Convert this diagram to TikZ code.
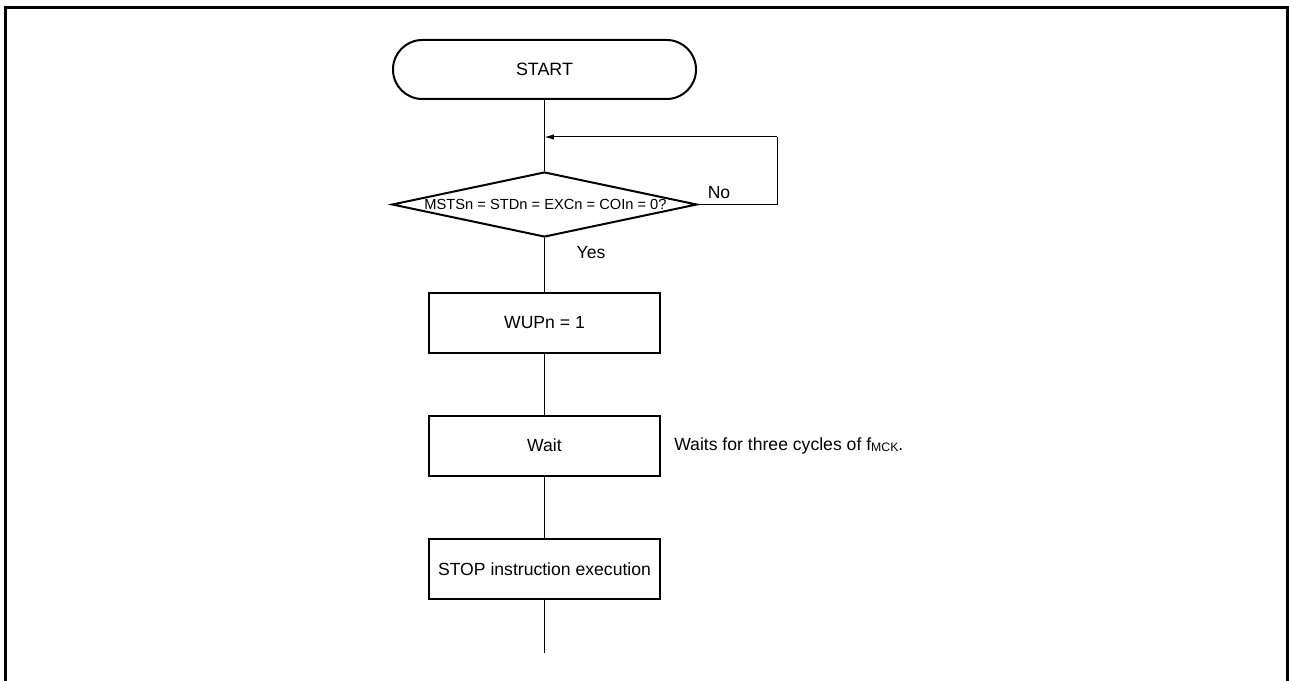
\documentclass[tikz,border=0pt]{standalone}
\usepackage{fontspec}
\setmainfont{Liberation Sans}
\usetikzlibrary{shapes.geometric,arrows.meta}
\begin{document}
\begin{tikzpicture}[x=0.75pt,y=-0.75pt,
  stepbox/.style={draw, line width=1.5pt, minimum width=173.25pt, minimum height=45pt, inner sep=0pt, font=\fontsize{13.2}{15}\selectfont},
  termbox/.style={draw, line width=1.5pt, rounded corners=22pt, minimum width=227.25pt, minimum height=44.25pt, inner sep=0pt, font=\fontsize{13.4}{15}\selectfont},
  decbox/.style={draw, shape=diamond, line width=1.5pt, minimum width=228.75pt, minimum height=48.75pt, inner sep=0pt},
  conn/.style={line width=0.75pt},
  lbl/.style={inner sep=0pt, font=\fontsize{13.2}{15}\selectfont}]
\useasboundingbox (0,0) rectangle (1289,681);
\draw[line width=2.25pt] (5.5,681) -- (5.5,7.5) -- (1287.5,7.5) -- (1287.5,681);

\node[termbox] (start) at (544.5,69.5) {START};
\node[decbox] (dec) at (544.5,204.5) {};
\node[inner sep=0pt, font=\fontsize{11}{13}\selectfont] (dectext) at (545.5,204.5) {MSTSn = STDn = EXCn = COIn = 0?};
\node[stepbox] (wup) at (544.5,323) {WUPn = 1};
\node[stepbox] (wait) at (544.5,445.5) {Wait};
\node[stepbox] (stop) at (544.5,569) {STOP instruction execution};
\coordinate (endpt) at (544.5,653);
\coordinate (lpc) at (777,137);
\coordinate (lpin) at (544.5,137);

\node[lbl] (no) at (719,193) {No};
\node[lbl] (yes) at (591,253) {Yes};
\node[lbl, anchor=west] (note) at (674,446) {Waits for three cycles of f\raisebox{-0.5pt}{\fontsize{9.2}{10}\selectfont MCK}.};

\draw[conn] (start.south) -- (dec.north);
\draw[conn] (dec.east) -| (lpc);
\draw[conn, -{Latex[length=7pt,width=4pt]}] (lpc) -- (lpin);
\draw[conn] (dec.south) -- (wup.north);
\draw[conn] (wup.south) -- (wait.north);
\draw[conn] (wait.south) -- (stop.north);
\draw[conn] (stop.south) -- (endpt);
\end{tikzpicture}
\end{document}
